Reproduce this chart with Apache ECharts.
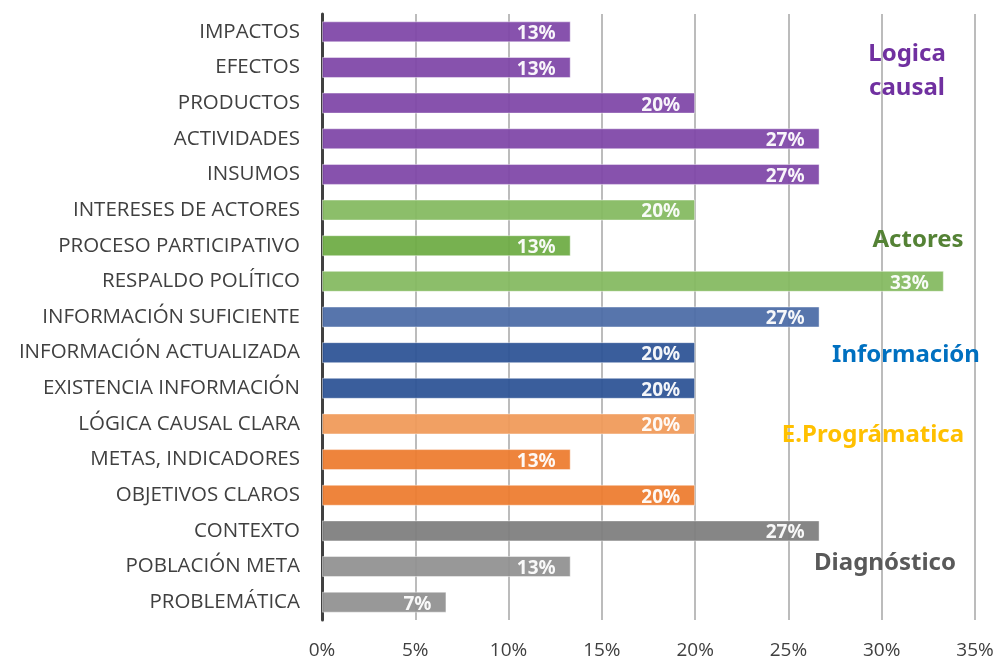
<!DOCTYPE html>
<html>
<head>
<meta charset="utf-8">
<script src="https://cdn.jsdelivr.net/npm/echarts@6/dist/echarts.min.js"></script>
<style>html,body{margin:0;padding:0;background:#fff}#c{width:996px;height:659px}</style>
</head>
<body>
<div id="c"></div>
<script>
const categories = ['IMPACTOS','EFECTOS','PRODUCTOS','ACTIVIDADES','INSUMOS','INTERESES DE ACTORES','PROCESO PARTICIPATIVO','RESPALDO POLÍTICO','INFORMACIÓN SUFICIENTE','INFORMACIÓN ACTUALIZADA','EXISTENCIA INFORMACIÓN','LÓGICA CAUSAL CLARA','METAS, INDICADORES','OBJETIVOS CLAROS','CONTEXTO','POBLACIÓN META','PROBLEMÁTICA'];
const values = [13.33,13.33,20,26.67,26.67,20,13.33,33.33,26.67,20,20,20,13.33,20,26.67,13.33,6.67];
const barColors = ['#8149A9','#8149A9','#8149A9','#8149A9','#8149A9','#86BA62','#70AD47','#86BA62','#4E6EA8','#2F5597','#2F5597','#F09B5B','#ED7D31','#ED7D31','#7F7F7F','#929292','#929292'];
const xTicks = [0,5,10,15,20,25,30,35];
const groupLabels = [
  {text:'Logica\ncausal', color:'#7030A0', x:907, y:71},
  {text:'Actores', color:'#548235', x:918, y:240},
  {text:'Información', color:'#0070C0', x:906, y:355},
  {text:'E.Prográmatica', color:'#FFC000', x:873, y:435},
  {text:'Diagnóstico', color:'#595959', x:885, y:563}
];

const chart = echarts.init(document.getElementById('c'));
chart.setOption({
  animation:false,
  grid:{left:322, right:21, top:14, bottom:39, outerBoundsMode:'none', containLabel:false},
  xAxis:{
    type:'value', min:xTicks[0], max:xTicks[xTicks.length-1], interval:5,
    axisLine:{show:false}, axisTick:{show:false},
    axisLabel:{formatter:v=>v+'%', color:'#404040', fontSize:19, fontFamily:'Open Sans', margin:21},
    splitLine:{lineStyle:{color:'#A6A6A6', width:1.5}}
  },
  yAxis:{
    type:'category', data:categories, inverse:true,
    axisLine:{lineStyle:{color:'#404040', width:3}},
    axisTick:{show:false},
    axisLabel:{color:'#404040', fontSize:20.5, fontFamily:'Open Sans', margin:22}
  },
  series:[{
    type:'bar', barWidth:21, z:1,
    data:values.map((v,i)=>({value:v, itemStyle:{color:barColors[i], borderColor:'rgba(255,255,255,0.45)', borderWidth:1, opacity:0.95}})),
    label:{show:true, position:'insideRight', formatter:p=>Math.round(p.value)+'%', color:'#fff', fontWeight:'bold', fontSize:19, fontFamily:'Noto Sans', offset:[0,2], distance:15}
  }],
  graphic: groupLabels.map(g=>({
    type:'text', x:g.x, y:g.y, z:100,
    style:{text:g.text, fill:g.color, font:'bold 24px "Noto Sans"', textAlign:'center', textVerticalAlign:'middle', lineHeight:34}
  }))
});
</script>
</body>
</html>
